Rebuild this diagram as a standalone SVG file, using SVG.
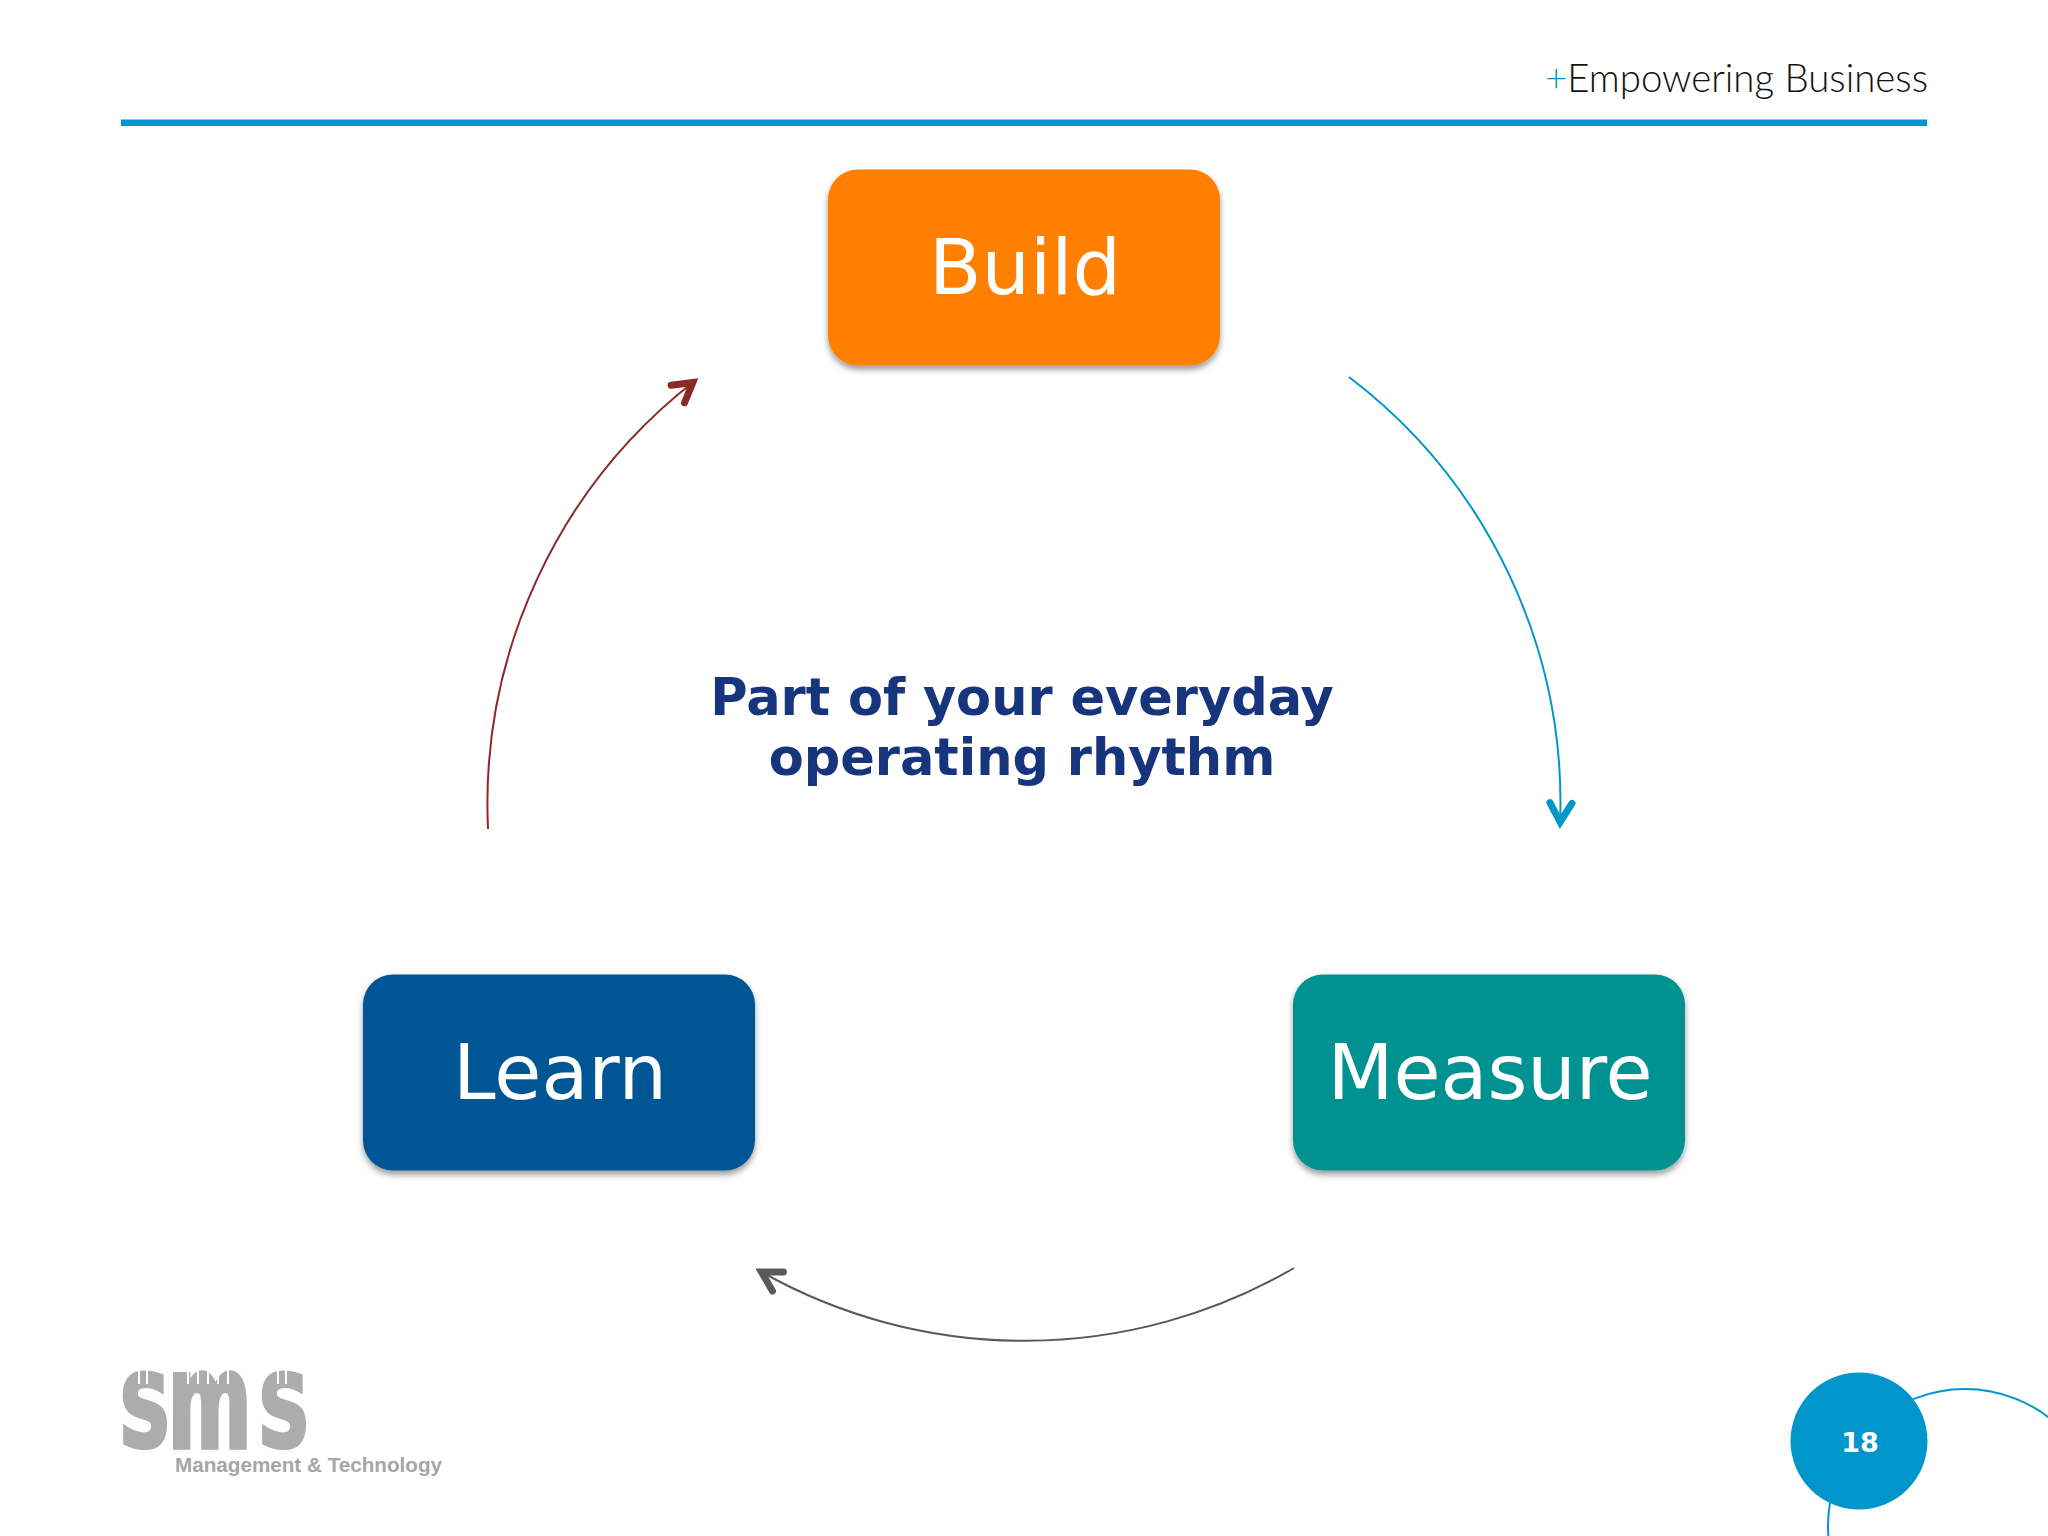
<svg xmlns="http://www.w3.org/2000/svg" width="2048" height="1536" viewBox="0 0 2048 1536">
<style>
.node{stroke:none;filter:url(#sh)}
.lbl{font-family:"DejaVu Sans",Verdana,sans-serif;font-size:76.5px;fill:#fff;text-anchor:middle}
.mid{font-family:"DejaVu Sans",Verdana,sans-serif;font-weight:700;font-size:51px;fill:#17357c;text-anchor:middle}
.arc{fill:none;stroke-width:2}
.head{fill:none;stroke-width:7;stroke-linecap:round;stroke-linejoin:miter}
.logo{font-family:"DejaVu Sans",sans-serif;font-weight:700;fill:#acacac;stroke:#acacac;stroke-width:4}
.gap{fill:#fff}
</style>
<defs>
<filter id="sh" x="-10%" y="-10%" width="120%" height="130%"><feDropShadow dx="0" dy="4" stdDeviation="3" flood-color="#000" flood-opacity=".4"/></filter>
<marker id="mb" markerUnits="userSpaceOnUse" markerWidth="60" markerHeight="60" refX="40" refY="30" orient="auto" overflow="visible"><path class="head" stroke="#0096cc" d="M17,19L36,30L17,41"/></marker>
<marker id="mr" markerUnits="userSpaceOnUse" markerWidth="60" markerHeight="60" refX="40" refY="30" orient="auto" overflow="visible"><path class="head" stroke="#8c2a2a" d="M17,19L36,30L17,41"/></marker>
<marker id="mg" markerUnits="userSpaceOnUse" markerWidth="60" markerHeight="60" refX="40" refY="30" orient="auto" overflow="visible"><path class="head" stroke="#595959" d="M17,19L36,30L17,41"/></marker>
</defs>
<rect width="2048" height="1536" fill="#fff"/>
<g id="header">
<rect x="121" y="119.500" width="1806" height="6.500" fill="#0096cc"/>
<text x="1928" y="92" text-anchor="end" font-family="Lato,'Open Sans',sans-serif" font-weight="300" font-size="38.400" fill="#111"><tspan fill="#0096cc">+</tspan>Empowering Business</text>
</g>
<g id="connectors">
<path class="arc" stroke="#0096cc" marker-end="url(#mb)" d="M1349,377A536,536 0 0 1 1560,826"/>
<path class="arc" stroke="#595959" marker-end="url(#mg)" d="M1294,1268A536,536 0 0 1 758,1270"/>
<path class="arc" stroke="#8c2a2a" marker-end="url(#mr)" d="M488,829A536,536 0 0 1 696,380"/>
</g>
<g id="build"><rect class="node" x="828" y="169.500" width="392" height="196" rx="30" fill="#ff7f00"/><text class="lbl" x="1025" y="294">Build</text></g>
<g id="learn"><rect class="node" x="363" y="974.500" width="392" height="196" rx="30" fill="#005494"/><text class="lbl" x="560" y="1099">Learn</text></g>
<g id="measure"><rect class="node" x="1293" y="974.500" width="392" height="196" rx="30" fill="#039290"/><text class="lbl" x="1490" y="1099">Measure</text></g>
<g id="center"><text class="mid" x="1022" y="714.500">Part of your everyday</text><text class="mid" x="1022" y="774.500">operating rhythm</text></g>
<g id="logo">
<text class="logo" font-size="100" transform="translate(119,1447) scale(.72,.99)">S</text>
<text class="logo" font-size="100" transform="translate(168,1447) scale(.8,1.32)">m</text>
<text class="logo" font-size="100" transform="translate(258,1447) scale(.72,.99)">S</text>
<rect class="gap" x="138" y="1368" width="2" height="16"/><rect class="gap" x="146" y="1368" width="2" height="16"/>
<rect class="gap" x="277" y="1368" width="2" height="16"/><rect class="gap" x="285" y="1368" width="2" height="16"/>
<rect class="gap" x="187" y="1368" width="2" height="16"/><rect class="gap" x="197" y="1368" width="2" height="16"/><rect class="gap" x="207" y="1368" width="2" height="16"/><rect class="gap" x="217" y="1368" width="2" height="16"/><rect class="gap" x="227" y="1368" width="2" height="16"/>
<text x="175" y="1472" font-family="'Liberation Sans',sans-serif" font-weight="700" font-size="21" fill="#a6a6a6" textLength="267" lengthAdjust="spacingAndGlyphs">Management &amp; Technology</text>
</g>
<g id="page">
<circle cx="1965" cy="1526" r="137" fill="none" stroke="#0096cc" stroke-width="2"/>
<circle cx="1859" cy="1441" r="68.500" fill="#0096cc"/>
<text x="1860" y="1452" text-anchor="middle" font-family="'DejaVu Sans',sans-serif" font-weight="700" font-size="27" fill="#fff">18</text>
</g>
</svg>
